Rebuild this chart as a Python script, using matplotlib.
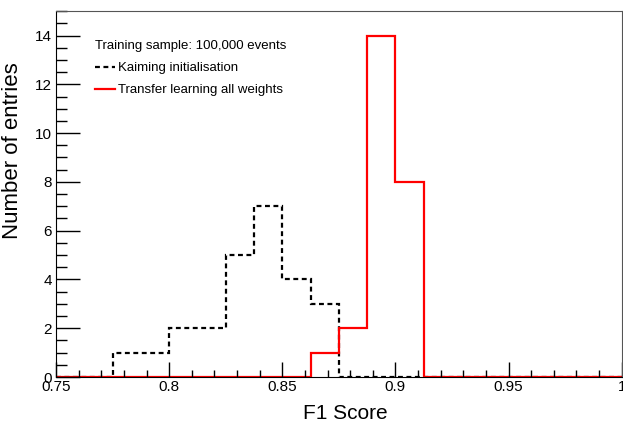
import numpy as np
import matplotlib.pyplot as plt
from matplotlib.ticker import MultipleLocator

plt.rcParams['font.family'] = ['Liberation Sans', 'DejaVu Sans']

# bin edges: 20 bins of 0.0125 between 0.75 and 1.0
edges = np.linspace(0.75, 1.0, 21)

kaiming = [0, 0, 1, 1, 2, 2, 5, 7, 4, 3, 0, 0, 0, 0, 0, 0, 0, 0, 0, 0]
transfer = [0, 0, 0, 0, 0, 0, 0, 0, 0, 1, 2, 14, 8, 0, 0, 0, 0, 0, 0, 0]

fig = plt.figure(figsize=(6.23, 4.23), dpi=100)
ax = fig.add_axes([0.0899, 0.1087, 0.908, 0.865])

ax.stairs(kaiming, edges, color='black', linewidth=1.6, linestyle=(0, (2.2, 1.6)),
          label='Kaiming initialisation', baseline=0)
ax.stairs(transfer, edges, color='red', linewidth=1.6,
          label='Transfer learning all weights', baseline=0)

ax.set_xlim(0.75, 1.0)
ax.set_ylim(0, 15)
ax.xaxis.set_minor_locator(MultipleLocator(0.01))
ax.yaxis.set_major_locator(MultipleLocator(2))
ax.yaxis.set_minor_locator(MultipleLocator(0.5))
ax.set_xticks([0.75, 0.8, 0.85, 0.9, 0.95, 1.0])
ax.set_xticklabels(['0.75', '0.8', '0.85', '0.9', '0.95', '1'])

ax.tick_params(which='both', direction='in', top=False, right=False, labelsize=11)
ax.tick_params(axis='y', which='major', length=17, width=1, pad=3)
ax.tick_params(axis='y', which='minor', length=8, width=1)
ax.tick_params(axis='x', which='major', length=11, width=1, pad=2)
ax.tick_params(axis='x', which='minor', length=5, width=1)

for s in ['top', 'right']:
    ax.spines[s].set_color('#555555')

ax.set_xlabel('F1 Score', fontsize=15, labelpad=4)
ax.xaxis.set_label_coords(0.512, -0.075)
ax.set_ylabel('Number of entries', fontsize=16)
ax.yaxis.set_label_coords(-0.058, 0.62)

leg = ax.legend(title='Training sample: 100,000 events', loc='upper left',
                bbox_to_anchor=(0.048, 0.953), frameon=False, fontsize=9.5,
                title_fontsize=9.5, alignment='left', handlelength=1.5,
                handletextpad=0.25, labelspacing=0.75)

fig.savefig('out.png', dpi=100)
